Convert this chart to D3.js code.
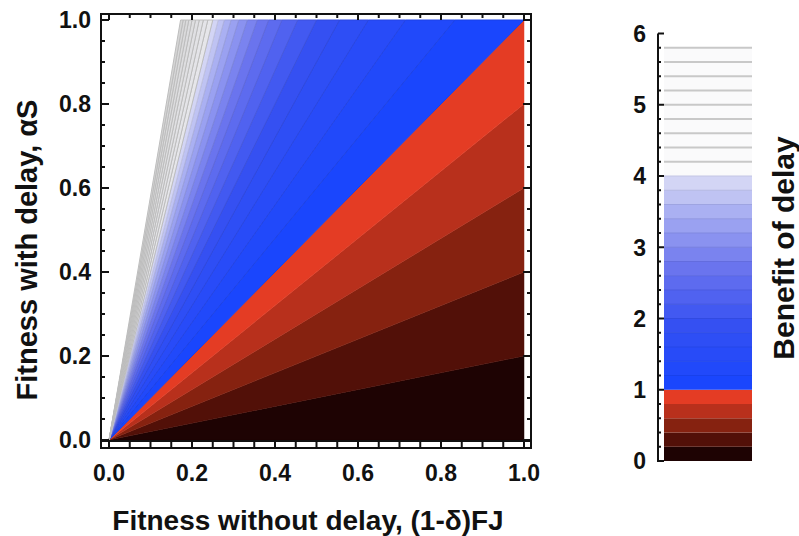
<!DOCTYPE html>
<html>
<head>
<meta charset="utf-8">
<script src="https://cdn.jsdelivr.net/npm/d3@7"></script>
<style>
  body { margin: 0; background: #fff; }
  text { font-family: "Liberation Sans", Arial, Helvetica, sans-serif; font-weight: bold; fill: #111; }
</style>
</head>
<body>
<script>
// contour levels of the benefit of delay (ratio aS / (1-d)FJ)
var levels = [0, 0.2, 0.4, 0.6, 0.8, 1.0, 1.2, 1.4, 1.6, 1.8, 2.0, 2.2, 2.4, 2.6, 2.8,
              3.0, 3.2, 3.4, 3.6, 3.8, 4.0, 4.2, 4.4, 4.6, 4.8, 5.0, 5.2, 5.4, 5.6, 5.8];
var redColors = ["#1e0303", "#521008", "#862210", "#b8301c", "#e43c24"];
var blueDomain = [1.0, 1.8, 2.6, 3.4, 4.0];
var blueRange = ["#1a46fd", "#3550f2", "#6a74ee", "#aab0f2", "#e8e8f6"];
var grayDomain = [4.0, 5.8];
var grayRange = ["#e6e6ea", "#d4d4d4"];

var axisTicks = [0, 0.2, 0.4, 0.6, 0.8, 1.0];
var axisLabels = ["0.0", "0.2", "0.4", "0.6", "0.8", "1.0"];
var legendTicks = [0, 1, 2, 3, 4, 5, 6];

var svg = d3.select("body").append("svg")
    .attr("width", 799)
    .attr("height", 536);

var x = d3.scaleLinear().domain([0, 1]).range([109, 524]);
var y = d3.scaleLinear().domain([0, 1]).range([440, 20]);

var blueScale = d3.scaleLinear().domain(blueDomain).range(blueRange).clamp(true);
var grayScale = d3.scaleLinear().domain(grayDomain).range(grayRange);

function bandColor(a) {
    if (a < 1) return redColors[Math.round(a / 0.2)];
    return blueScale(a);
}
function plotColor(a) {
    return a >= 4 ? grayScale(a) : bandColor(a);
}
function bandStroke(a) {
    if (a < 1) return bandColor(a);
    if (a >= 4) return "#bdbdbd";
    return d3.color(bandColor(a)).darker(0.25);
}

// region a*x <= y <= b*x inside the unit square
function bandPoly(a, b) {
    var pts = [[0, 0]];
    pts.push(a <= 1 ? [1, a] : [1 / a, 1]);
    if (a < 1 && b > 1) pts.push([1, 1]);
    pts.push(b <= 1 ? [1, b] : [1 / b, 1]);
    return pts;
}

var bands = [];
for (var i = 0; i < levels.length - 1; i++) {
    bands.push({ a: levels[i], b: levels[i + 1] });
}

var line = d3.line().x(d => x(d[0])).y(d => y(d[1]));

var plot = svg.append("g");
plot.selectAll(".band")
    .data(bands)
    .enter()
    .append("path")
    .attr("class", "band")
    .attr("d", d => line(bandPoly(d.a, d.b)) + "Z")
    .style("fill", d => plotColor(d.a))
    .style("stroke", d => bandStroke(d.a))
    .style("stroke-width", d => d.a >= 1 ? 1 : 0.5)
    .style("stroke-linejoin", "round");

// FRAME
var fL = 101, fR = 531, fT = 14, fB = 448;
var frame = svg.append("g").style("stroke", "#111").style("stroke-width", 2).style("fill", "none");
frame.append("rect").attr("x", fL).attr("y", fT).attr("width", fR - fL).attr("height", fB - fT);
frame.append("line").attr("x1", fL).attr("x2", fR).attr("y1", 441).attr("y2", 441);

var minor = d3.range(0, 1.0001, 0.05);
var isMajor = v => Math.abs(v * 5 - Math.round(v * 5)) < 1e-6;

// bottom ticks fill the band below the data
frame.selectAll(".bt").data(minor).enter().append("line")
    .attr("x1", d => x(d)).attr("x2", d => x(d))
    .attr("y1", fB).attr("y2", 441);
// top ticks
frame.selectAll(".tt").data(minor).enter().append("line")
    .attr("x1", d => x(d)).attr("x2", d => x(d))
    .attr("y1", fT).attr("y2", d => fT + (isMajor(d) ? 6 : 4));
// left ticks
frame.selectAll(".lt").data(minor).enter().append("line")
    .attr("y1", d => y(d)).attr("y2", d => y(d))
    .attr("x1", fL).attr("x2", d => fL + (isMajor(d) ? 8 : 4));
// right ticks
frame.selectAll(".rt").data(minor).enter().append("line")
    .attr("y1", d => y(d)).attr("y2", d => y(d))
    .attr("x1", fR).attr("x2", d => fR - (isMajor(d) ? 8 : 4));

svg.selectAll(".xl").data(axisTicks).enter().append("text")
    .attr("x", d => x(d)).attr("y", 481)
    .attr("text-anchor", "middle")
    .style("font-size", "23px")
    .text((d, i) => axisLabels[i]);

svg.selectAll(".yl").data(axisTicks).enter().append("text")
    .attr("x", 91).attr("y", d => y(d)).attr("dy", "0.36em")
    .attr("text-anchor", "end")
    .style("font-size", "23px")
    .text((d, i) => axisLabels[i]);

svg.append("text")
    .attr("transform", "translate(37,250) rotate(-90)")
    .attr("text-anchor", "middle")
    .style("font-size", "29px")
    .text("Fitness with delay, \u03b1S");

svg.append("text")
    .attr("x", 308).attr("y", 530)
    .attr("text-anchor", "middle")
    .style("font-size", "28px")
    .text("Fitness without delay, (1-\u03b4)FJ");

// LEGEND
var yl = d3.scaleLinear().domain([0, 6]).range([461, 33.5]);
var lx0 = 664, lx1 = 752;
var leg = svg.append("g");
leg.selectAll(".lb").data(bands).enter().append("rect")
    .attr("x", lx0).attr("width", lx1 - lx0)
    .attr("y", d => yl(d.b)).attr("height", d => yl(d.a) - yl(d.b))
    .style("fill", d => d.a >= 4 ? "#fafafb" : bandColor(d.a));
leg.selectAll(".ls").data(bands.filter(d => d.a >= 1)).enter().append("line")
    .attr("x1", lx0).attr("x2", lx1)
    .attr("y1", d => yl(d.b)).attr("y2", d => yl(d.b))
    .style("stroke", d => d.b > 4 ? "#c8c8c8" : d3.color(bandColor(d.a)).darker(0.2))
    .style("stroke-width", d => d.b > 4 ? 2 : 1);

var lax = svg.append("g").style("stroke", "#111").style("stroke-width", 2).style("fill", "none");
lax.append("path").attr("d", "M" + 658 + "," + yl(6) + "V" + yl(0) + "H" + 663);
lax.selectAll(".lt").data(d3.range(0, 6.0001, 0.2)).enter().append("line")
    .attr("y1", d => yl(d)).attr("y2", d => yl(d))
    .attr("x1", 658).attr("x2", d => 658 + (Math.abs(d - Math.round(d)) < 1e-6 ? 6 : 3));

svg.selectAll(".lgl").data(legendTicks).enter().append("text")
    .attr("x", 646).attr("y", d => yl(d)).attr("dy", "0.36em")
    .attr("text-anchor", "end")
    .style("font-size", "23px")
    .text(d => d);

svg.append("text")
    .attr("transform", "translate(794,248) rotate(-90)")
    .attr("text-anchor", "middle")
    .style("font-size", "30px")
    .text("Benefit of delay");
</script>
</body>
</html>
